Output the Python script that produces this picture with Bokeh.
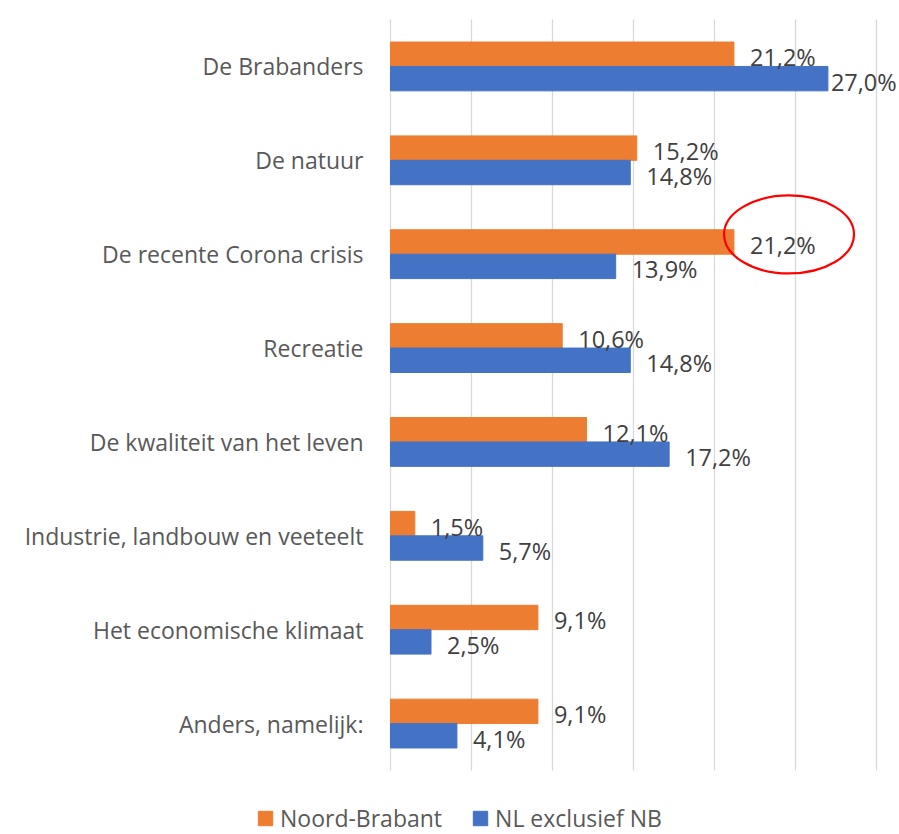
from bokeh.plotting import figure
from bokeh.models import ColumnDataSource, Range1d, Legend, LegendItem
from bokeh.transform import dodge
from bokeh.core.properties import value
from bokeh.embed import file_html
from bokeh.resources import INLINE

# ---- data ----
categories = ["De Brabanders", "De natuur", "De recente Corona crisis", "Recreatie",
              "De kwaliteit van het leven", "Industrie, landbouw en veeteelt",
              "Het economische klimaat", "Anders, namelijk:"]
noord_brabant = [21.2, 15.2, 21.2, 10.6, 12.1, 1.5, 9.1, 9.1]
nl_excl_nb = [27.0, 14.8, 13.9, 14.8, 17.2, 5.7, 2.5, 4.1]
series_names = ["Noord-Brabant", "NL exclusief NB"]
x_ticks = [0, 5, 10, 15, 20, 25, 30]
highlight = "De recente Corona crisis"

# ---- style / layout ----
FONT = "Open Sans"
ORANGE = "#ED7D31"
BLUE = "#4472C4"
LABEL_COLOR = "#404040"
CAT_COLOR = "#595959"
GRID_COLOR = "#D9D9D9"

W, H = 899, 834
PLOT_LEFT, PLOT_TOP, PLOT_BOTTOM = 390, 19, 770     # plot area in pixels
px_x = 486 / 30.0                                    # pixels per percent
n = len(categories)
px_y = (PLOT_BOTTOM - PLOT_TOP) / n                  # pixels per category band

x_start = -PLOT_LEFT / px_x
x_end = (W - PLOT_LEFT) / px_x
y_top = n + 0.5 + PLOT_TOP / px_y
y_bottom = 0.5 - (H - PLOT_BOTTOM) / px_y

pos = [n - i for i in range(n)]                      # first category at top


def fmt(v):
    return f"{v:.1f}".replace(".", ",") + "%"


def label_offset(v):
    # push label inward when it would run past the chart's right edge
    return 3 if v * px_x + 16 + 52 > (W - PLOT_LEFT) - 5 else 16


src = ColumnDataSource(dict(
    cat=categories, pos=pos,
    nb=noord_brabant, nl=nl_excl_nb,
    nb_lab=[fmt(v) for v in noord_brabant],
    nl_lab=[fmt(v) for v in nl_excl_nb],
    nb_off=[label_offset(v) for v in noord_brabant],
    nl_off=[label_offset(v) for v in nl_excl_nb],
))

p = figure(width=W, height=H,
           x_range=Range1d(x_start, x_end), y_range=Range1d(y_bottom, y_top),
           x_axis_location=None, y_axis_location=None,
           output_backend="svg", toolbar_location=None, min_border=0)
p.outline_line_color = None
p.background_fill_color = "white"
p.border_fill_color = "white"
p.grid.visible = False

# vertical gridlines over the plot area
gsrc = ColumnDataSource(dict(t=x_ticks))
p.segment(x0="t", x1="t", y0=min(pos) - 0.5, y1=max(pos) + 0.5,
          line_color=GRID_COLOR, line_width=1.3, source=gsrc)

# category labels (axis labels)
p.text(x=0, y="pos", text="cat", x_offset=-27, text_align="right", text_baseline="middle",
       text_font=value(FONT), text_font_size="23px", text_color=CAT_COLOR, source=src)

BH = 0.26
r1 = p.hbar(y=dodge("pos", BH / 2), left=0, right="nb", height=BH,
            fill_color=ORANGE, line_color=ORANGE, source=src)
r2 = p.hbar(y=dodge("pos", -BH / 2), left=0, right="nl", height=BH,
            fill_color=BLUE, line_color=BLUE, source=src)

common = dict(text_baseline="middle", text_align="left", text_font=value(FONT),
              text_font_size="23.5px", text_color=LABEL_COLOR, y_offset=3, source=src)
p.text(x="nb", y=dodge("pos", BH / 2), text="nb_lab", x_offset="nb_off", **common)
p.text(x="nl", y=dodge("pos", -BH / 2), text="nl_lab", x_offset="nl_off", **common)

# red highlight ellipse around the Noord-Brabant label of the highlighted category
hi = categories.index(highlight)
hsrc = ColumnDataSource(dict(y=[pos[hi] + BH / 2 + 0.08], x=[noord_brabant[hi] + 3.4]))
p.ellipse(x="x", y="y", width=130, height=78,
          width_units="screen", height_units="screen",
          fill_color=None, line_color="#FF0000", line_width=2.2, source=hsrc)

legend = Legend(items=[LegendItem(label=series_names[0], renderers=[r1]),
                       LegendItem(label=series_names[1], renderers=[r2])],
                orientation="horizontal", location=(256, 0),
                padding=0, margin=0, spacing=29,
                glyph_width=18, glyph_height=18, label_standoff=6,
                label_text_font=FONT, label_text_font_size="23px",
                label_text_color=CAT_COLOR,
                border_line_color=None, background_fill_alpha=0)
p.add_layout(legend)

open("out.html", "w").write(file_html(p, INLINE))
